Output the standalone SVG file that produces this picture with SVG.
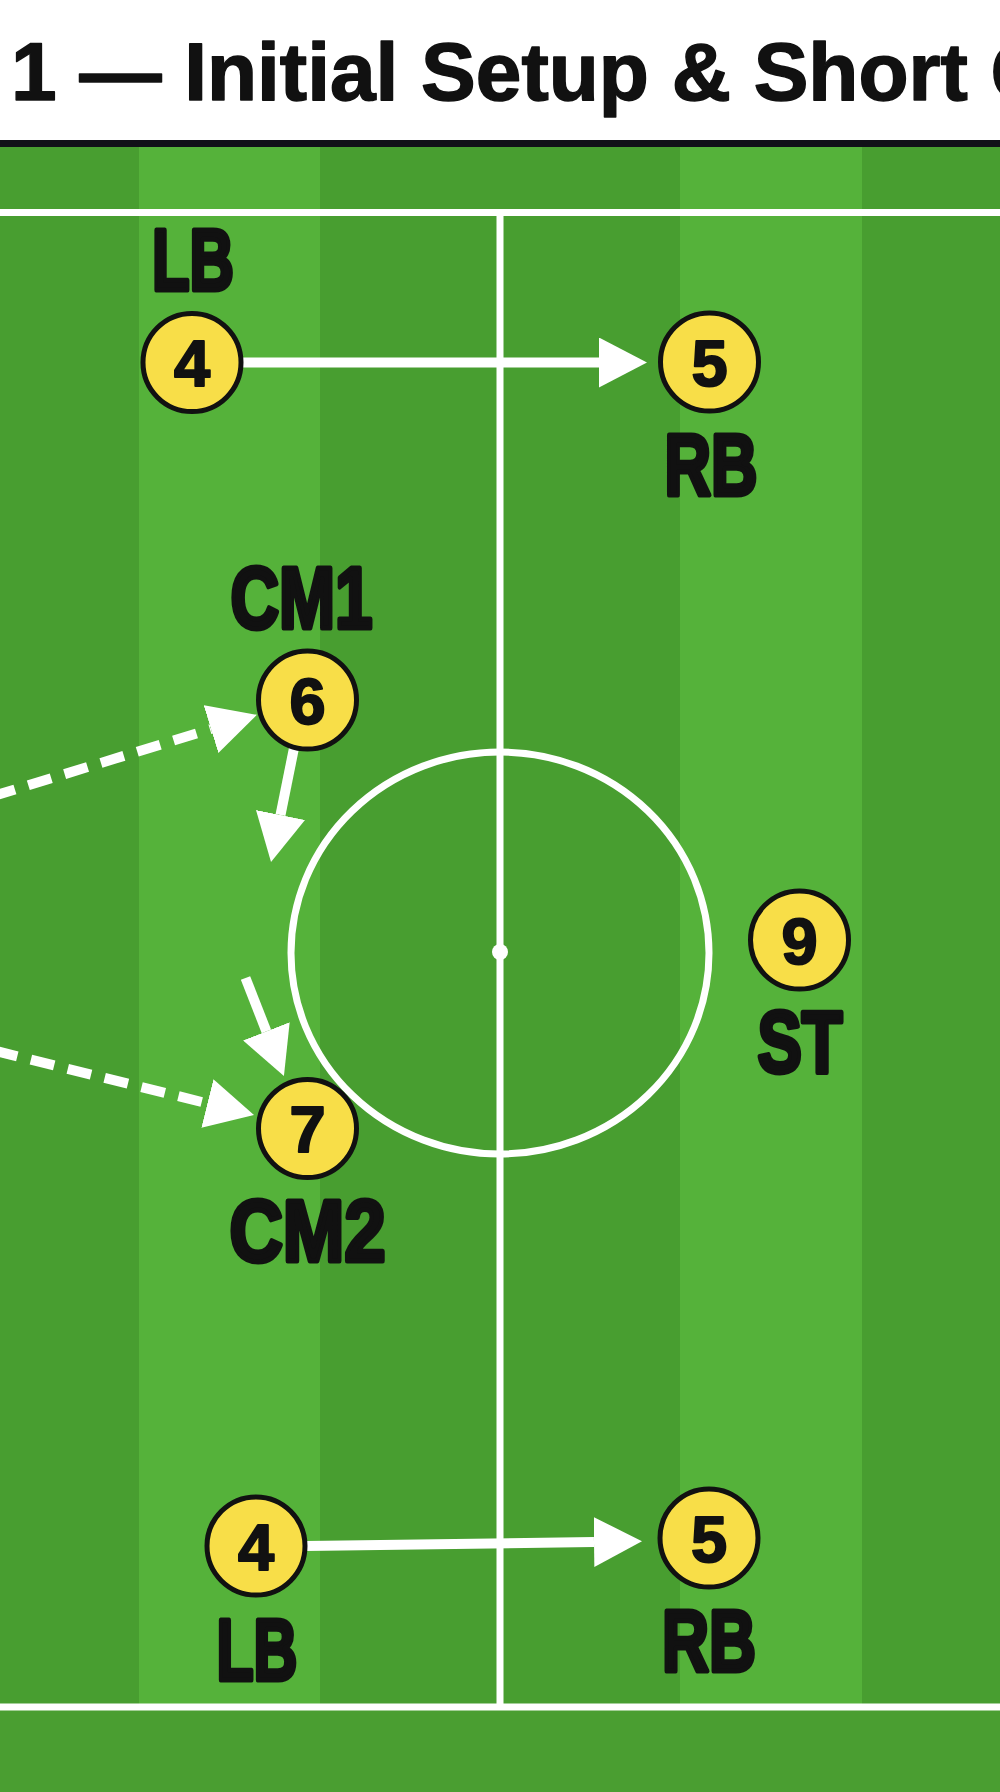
<svg xmlns="http://www.w3.org/2000/svg" width="1000" height="1792" viewBox="0 0 1000 1792">
<defs>
<style>
.dark{fill:#489e30}
.light{fill:#55b23a}
.pitch{stroke:#ffffff;stroke-width:7;fill:none}
.run{stroke:#ffffff;stroke-width:10;fill:none}
.dash{stroke-dasharray:24 14}
.disc{fill:#f8de48;stroke:#111111;stroke-width:5}
.num{font-family:"Liberation Sans",Arial,sans-serif;font-weight:bold;font-size:65px;fill:#111111;stroke:#111111;stroke-width:2;stroke-linejoin:round;text-anchor:middle}
.lbl{font-family:"Liberation Sans",Arial,sans-serif;font-weight:bold;font-size:88px;fill:#111111;stroke:#111111;stroke-width:5;stroke-linejoin:round;text-anchor:middle}
.title{font-family:"Liberation Sans",Arial,sans-serif;font-weight:bold;font-size:82px;fill:#111111;stroke:#111111;stroke-width:1.5;stroke-linejoin:round}
</style>
<marker id="head" viewBox="0 0 48 50" refX="0" refY="25" markerWidth="48" markerHeight="50" markerUnits="userSpaceOnUse" orient="auto">
<path d="M0,0 L48,25 L0,50 Z" fill="#ffffff"/>
</marker>
</defs>

<g id="header">
<rect x="0" y="0" width="1000" height="140" fill="#ffffff"/>
<text class="title" x="11" y="100">1 — Initial Setup &amp; Short C</text>
<rect x="0" y="140" width="1000" height="7" fill="#111118"/>
</g>

<g id="pitch">
<rect x="0" y="147" width="1000" height="1645" fill="#4a9e31"/>
<rect class="dark" x="0" y="147" width="139" height="1560"/>
<rect class="light" x="139" y="147" width="181" height="1560"/>
<rect class="dark" x="320" y="147" width="180" height="1560"/>
<rect class="dark" x="500" y="147" width="180" height="1560"/>
<rect class="light" x="680" y="147" width="182" height="1560"/>
<rect class="dark" x="862" y="147" width="138" height="1560"/>
<line class="pitch" x1="0" y1="212.5" x2="1000" y2="212.5"/>
<line class="pitch" x1="0" y1="1707" x2="1000" y2="1707"/>
<line class="pitch" x1="500" y1="212.5" x2="500" y2="1707"/>
<ellipse class="pitch" cx="500" cy="953" rx="209" ry="201" stroke-width="6.5"/>
<circle cx="500" cy="952" r="8" fill="#ffffff"/>
</g>

<g id="connectors">
<line class="run" x1="243" y1="362.5" x2="599" y2="362.5" marker-end="url(#head)"/>
<line class="run" x1="306" y1="1546" x2="594" y2="1542" marker-end="url(#head)"/>
<line class="run dash" x1="-8" y1="796.5" x2="211" y2="729" marker-end="url(#head)"/>
<line class="run dash" x1="-6" y1="1050.5" x2="207.4" y2="1103.4" marker-end="url(#head)"/>
<line class="run" x1="294" y1="748" x2="280.5" y2="815" marker-end="url(#head)"/>
<line class="run" x1="245.5" y1="978" x2="266.4" y2="1031.3" marker-end="url(#head)"/>
</g>

<g id="lb-top">
<text class="lbl" x="193" y="290" textLength="82" lengthAdjust="spacingAndGlyphs">LB</text>
<circle class="disc" cx="192" cy="362.5" r="49"/>
<text class="num" x="192" y="386">4</text>
</g>

<g id="rb-top">
<circle class="disc" cx="709.5" cy="362" r="49"/>
<text class="num" x="709.5" y="385.5">5</text>
<text class="lbl" x="711" y="495" textLength="93" lengthAdjust="spacingAndGlyphs">RB</text>
</g>

<g id="cm1">
<text class="lbl" x="301.5" y="628" textLength="142" lengthAdjust="spacingAndGlyphs">CM1</text>
<circle class="disc" cx="307.5" cy="700" r="49"/>
<text class="num" x="307.5" y="723.5">6</text>
</g>

<g id="cm2">
<circle class="disc" cx="307.5" cy="1128.5" r="49"/>
<text class="num" x="307.5" y="1152">7</text>
<text class="lbl" x="307.5" y="1261" textLength="156" lengthAdjust="spacingAndGlyphs">CM2</text>
</g>

<g id="st">
<circle class="disc" cx="799.5" cy="940" r="49"/>
<text class="num" x="799.5" y="963.5">9</text>
<text class="lbl" x="800" y="1072" textLength="85" lengthAdjust="spacingAndGlyphs">ST</text>
</g>

<g id="lb-bottom">
<circle class="disc" cx="256" cy="1546" r="49"/>
<text class="num" x="256" y="1569.5">4</text>
<text class="lbl" x="257" y="1680" textLength="81" lengthAdjust="spacingAndGlyphs">LB</text>
</g>

<g id="rb-bottom">
<circle class="disc" cx="709" cy="1538" r="49"/>
<text class="num" x="709" y="1561.5">5</text>
<text class="lbl" x="709" y="1671" textLength="94" lengthAdjust="spacingAndGlyphs">RB</text>
</g>
</svg>
